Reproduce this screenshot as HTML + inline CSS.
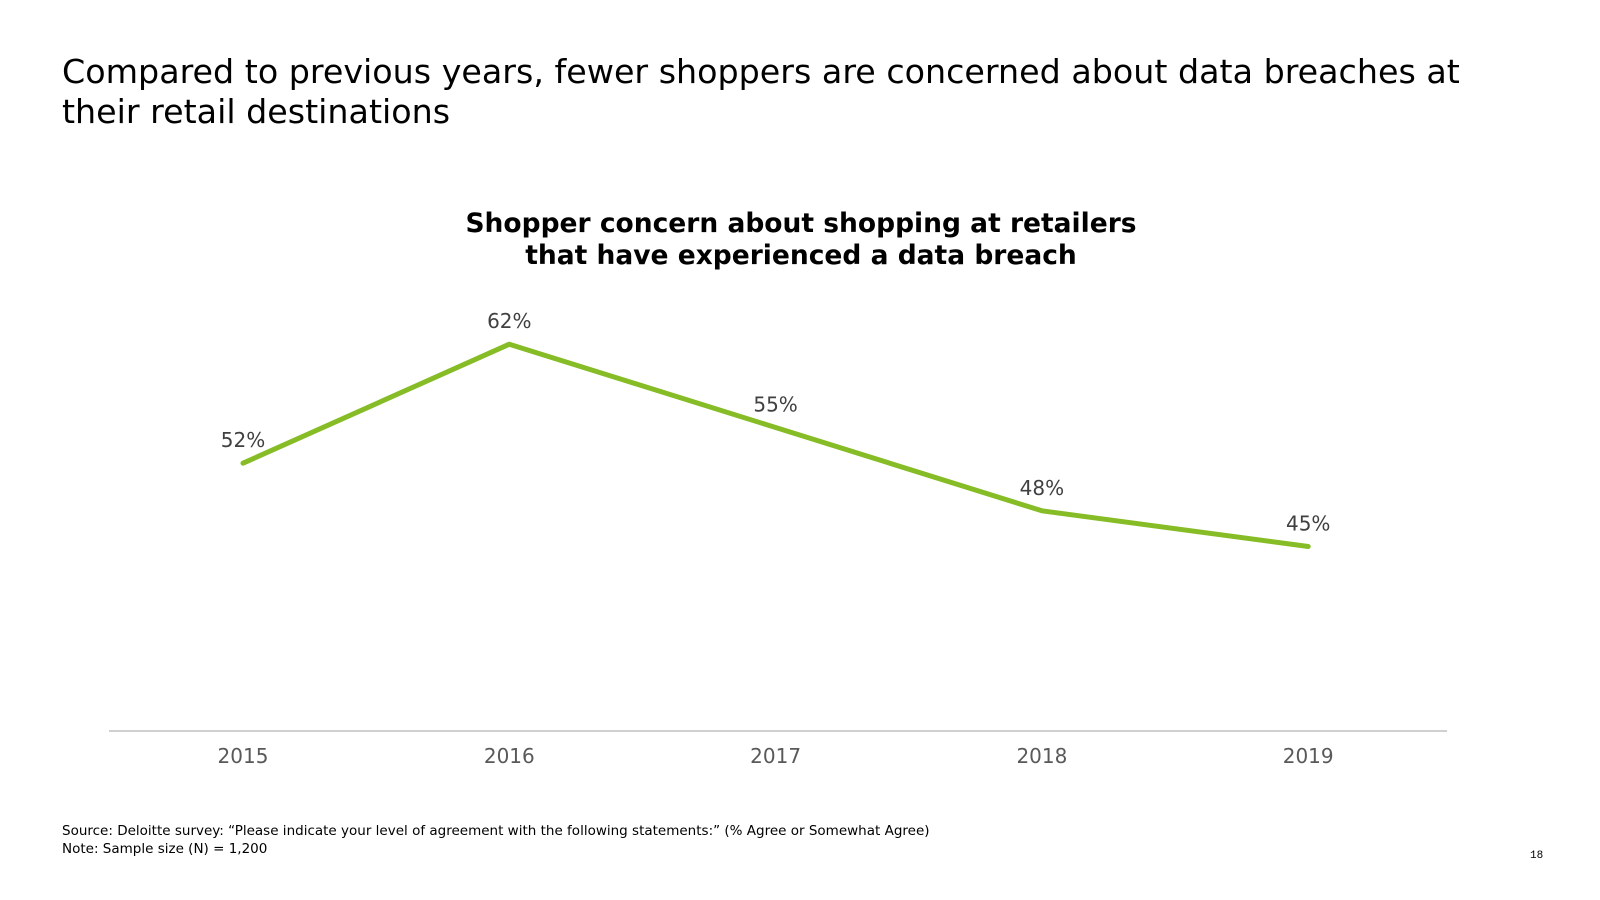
<!DOCTYPE html>
<html><head><meta charset="utf-8"><style>
body{margin:0;width:1600px;height:900px;background:#fff;font-family:"DejaVu Sans","Liberation Sans",sans-serif;overflow:hidden;position:relative}
.t{position:absolute;left:62px;top:52px;font-size:33.3px;line-height:40px;color:#000;margin:0;font-weight:normal}
.f{position:absolute;left:62px;top:822px;font-size:13.5px;line-height:18px;color:#000}
.p{position:absolute;left:1530px;top:850px;font-size:11px;font-family:"Liberation Mono",monospace}
</style></head><body>
<h1 class="t">Compared to previous years, fewer shoppers are concerned about data breaches at<br>their retail destinations</h1>
<svg id="chart" width="1600" height="900" style="position:absolute;left:0;top:0">
<text x="801" y="232" text-anchor="middle" font-size="26.5" font-weight="bold" fill="#000">Shopper concern about shopping at retailers</text>
<text x="801" y="264" text-anchor="middle" font-size="26.5" font-weight="bold" fill="#000">that have experienced a data breach</text>
<line x1="109" y1="731" x2="1447" y2="731" stroke="#d0d0d0" stroke-width="2"/>
</svg>
<div class="f">Source: Deloitte survey: “Please indicate your level of agreement with the following statements:” (% Agree or Somewhat Agree)<br>Note: Sample size (N) = 1,200</div>
<div class="p">18</div>
<script>
const years=["2015","2016","2017","2018","2019"];
const values=[52,62,55,48,45];
const labels=["52%","62%","55%","48%","45%"];
const svg=document.getElementById('chart');
const NS='http://www.w3.org/2000/svg';
function xPos(i){return 243+i*266.3;}
function yPos(v){return 725-(v-30)*11.9;}
let d='';
values.forEach((v,i)=>{d+=(i?'L':'M')+xPos(i)+' '+yPos(v);});
const path=document.createElementNS(NS,'path');
path.setAttribute('d',d);path.setAttribute('fill','none');path.setAttribute('stroke','#86bc25');
path.setAttribute('stroke-width','5');path.setAttribute('stroke-linecap','round');path.setAttribute('stroke-linejoin','round');


svg.appendChild(path);
values.forEach((v,i)=>{
 const t=document.createElementNS(NS,'text');
 t.setAttribute('x',xPos(i));t.setAttribute('y',yPos(v)-16);t.setAttribute('text-anchor','middle');
 t.setAttribute('font-size','20');t.setAttribute('fill','#404040');t.textContent=labels[i];
 
 
 svg.appendChild(t);
 const x=document.createElementNS(NS,'text');
 x.setAttribute('x',xPos(i));x.setAttribute('y',763);x.setAttribute('text-anchor','middle');
 x.setAttribute('font-size','20');x.setAttribute('fill','#595959');x.textContent=years[i];
 
 
 svg.appendChild(x);
});
</script>
</body></html>
